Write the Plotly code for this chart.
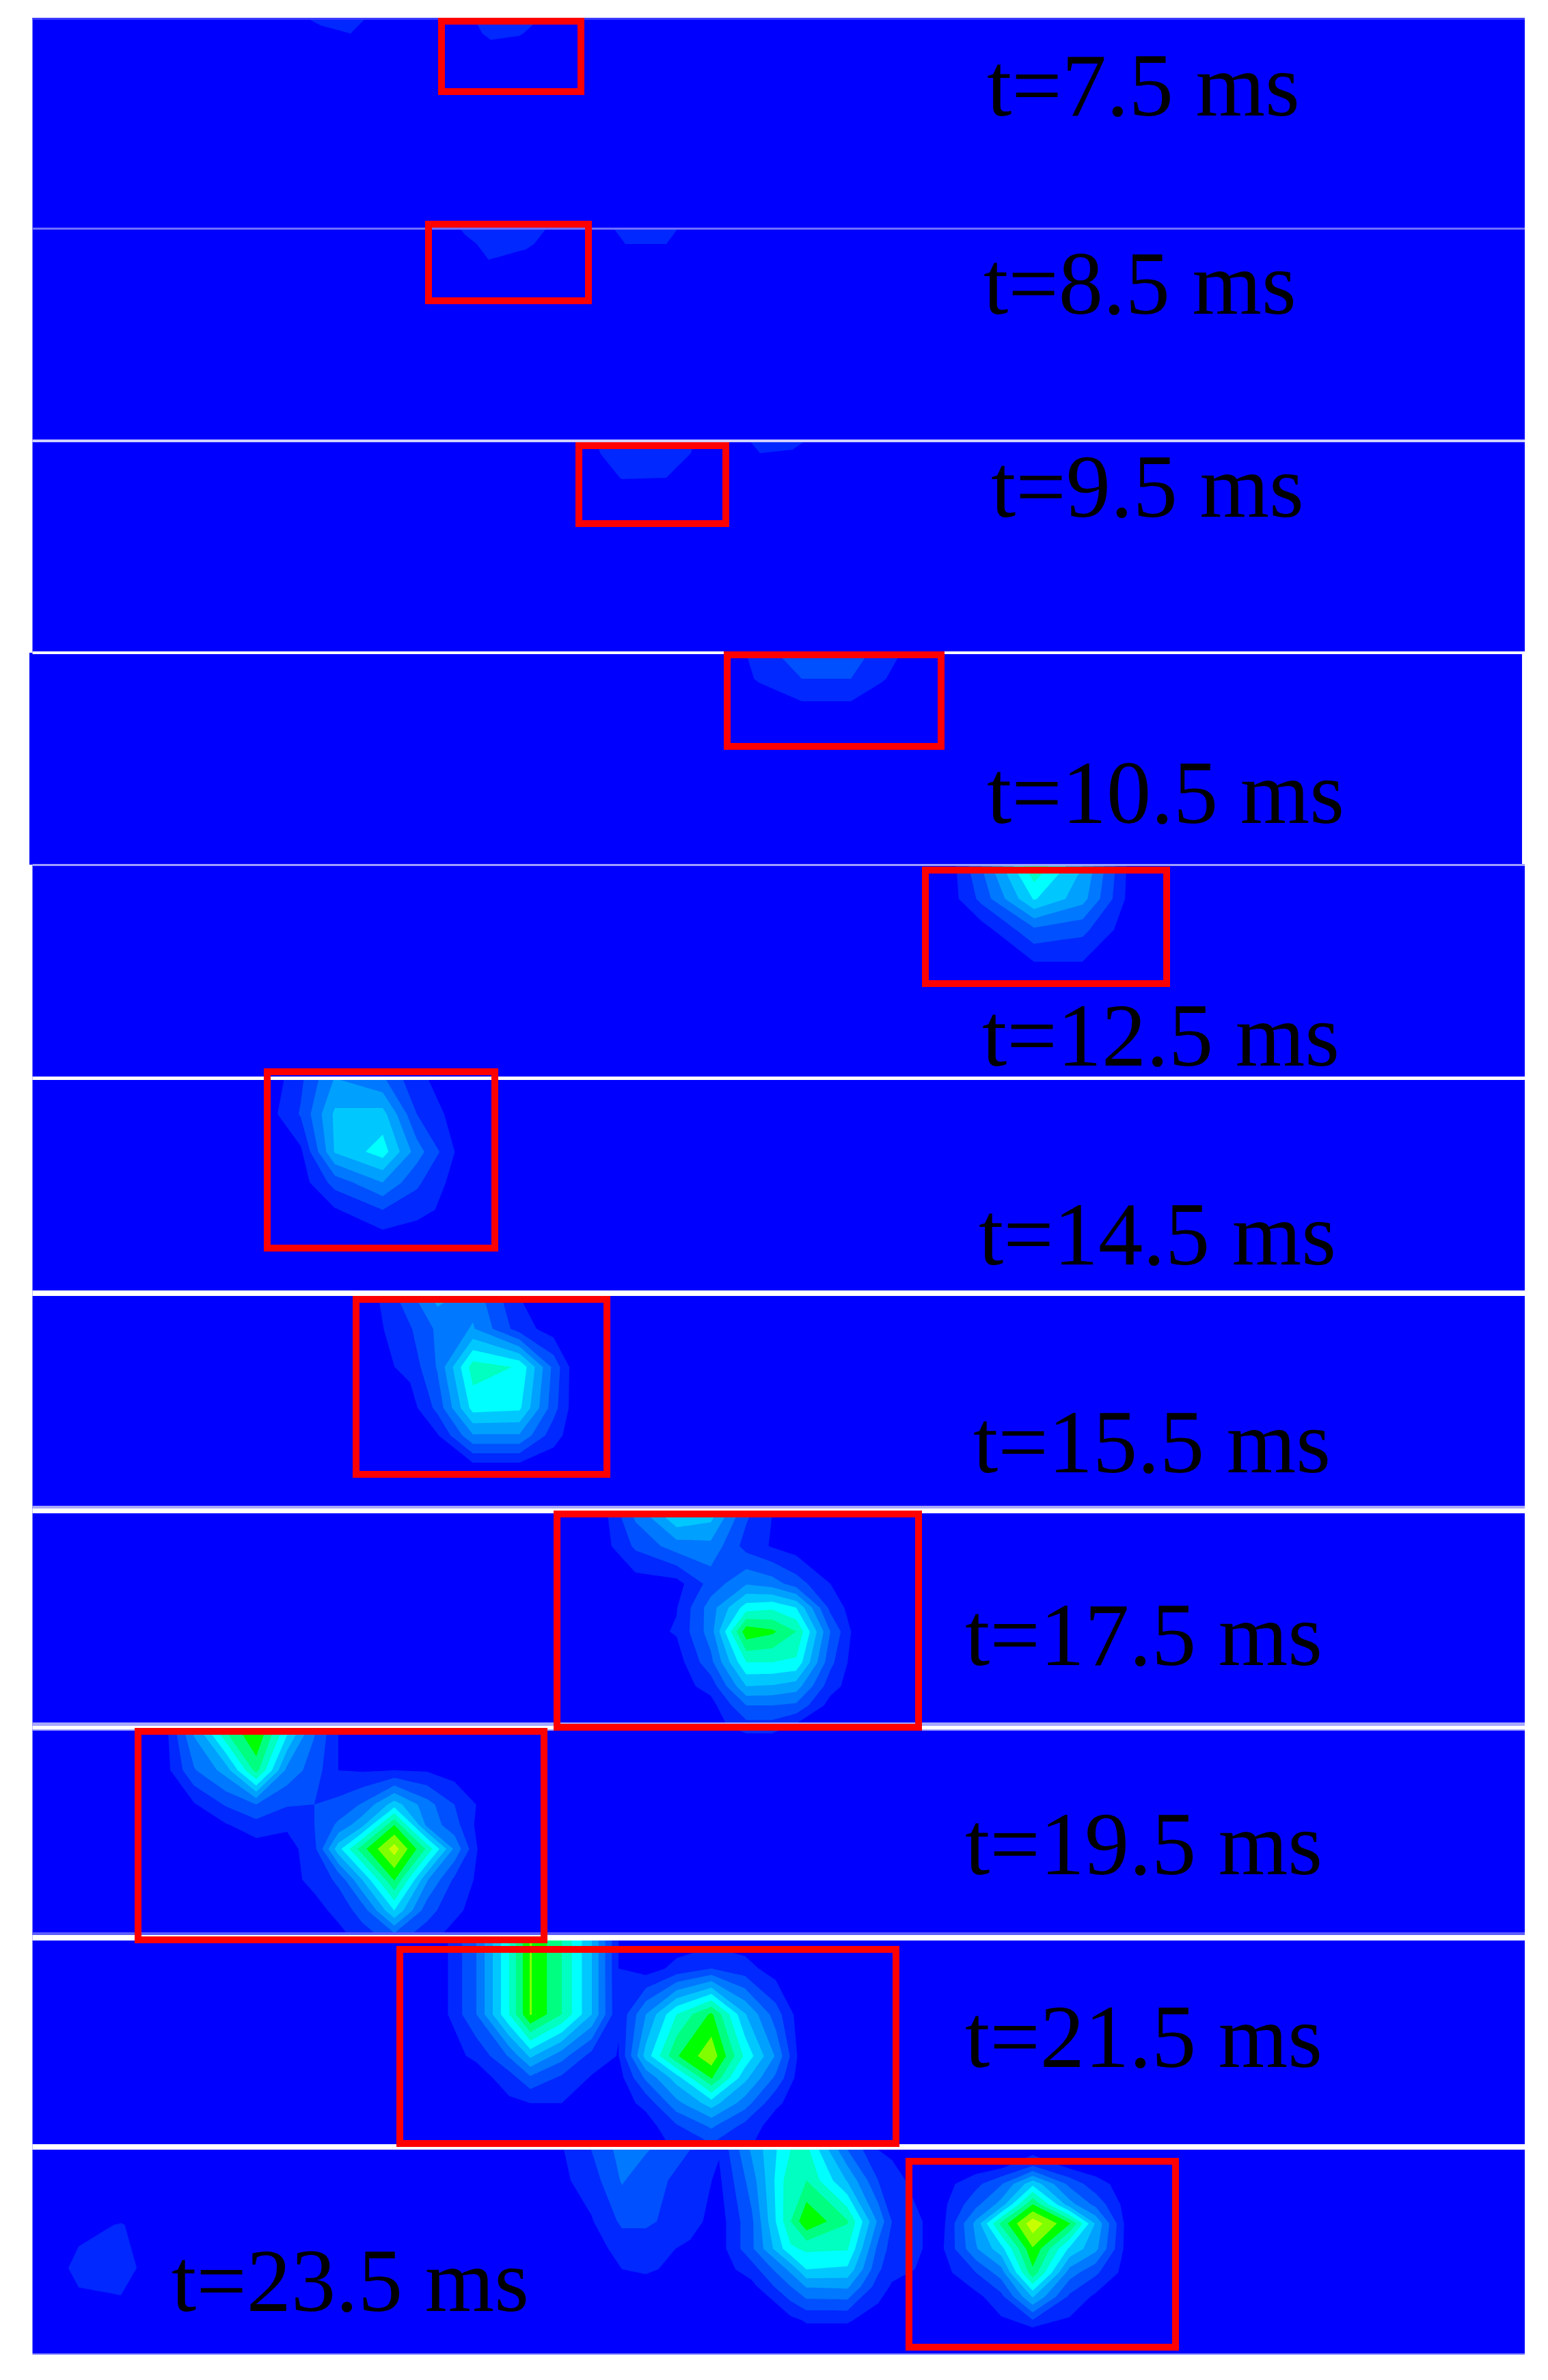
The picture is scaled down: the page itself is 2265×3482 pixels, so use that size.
import plotly.graph_objects as go

W, H = 2265, 3482

labels = ["t=7.5 ms", "t=8.5 ms", "t=9.5 ms", "t=10.5 ms", "t=12.5 ms", "t=14.5 ms",
          "t=15.5 ms", "t=17.5 ms", "t=19.5 ms", "t=21.5 ms", "t=23.5 ms"]
label_left = [1442, 1437, 1448, 1442, 1435, 1430, 1422, 1410, 1410, 1410, 249]
label_base = [169, 459, 756, 1204, 1559, 1850, 2154, 2436, 2742, 3024, 3381]

panel_left = [47.5, 47.5, 47.5, 43, 47.5, 47.5, 47.5, 47.5, 47.5, 47.5, 47.5]
panel_right = [2231, 2231, 2231, 2227, 2231, 2231, 2231, 2231, 2231, 2231, 2231]
panel_top = [26, 334, 645, 955, 1265, 1578, 1892, 2207, 2527, 2829, 3141]
panel_bottom = [334, 645, 955, 1265, 1578, 1892, 2207, 2527, 2829, 3141, 3443]

band_colors = ["#0000ff", "#0028ff", "#0050ff", "#0078ff", "#00a0ff", "#00c8ff",
               "#00ffff", "#00ffc0", "#00ff80", "#00ff00", "#80ff00", "#c8ff00"]

# Field samples, one block per frame
p1_x = [420, 470, 513, 550, 690, 718, 760, 795]
p1_y = [26, 49, 70]
p1_z = [[0, .9, 1.3, 0, .4, 1.2, 1.2, .4],
        [0, .1, .5, .1, 0, .9, .6, 0],
        [0, 0, 0, 0, 0, 0, 0, 0]]

p2_x = [660, 680, 715, 770, 810, 890, 915, 975, 1000]
p2_y = [336, 357, 380, 400]
p2_z = [[0, .7, 1.2, 1.2, .2, .2, 1, 1, .2],
        [0, .1, .9, .7, 0, 0, .5, .5, 0],
        [0, 0, .5, .1, 0, 0, 0, 0, 0],
        [0, 0, 0, 0, 0, 0, 0, 0, 0]]

p3_x = [865, 878, 910, 975, 1011, 1025, 1085, 1112, 1160, 1195]
p3_y = [647, 663, 699, 720]
p3_z = [[0, .7, 1.2, 1.2, .7, 0, .1, .9, .9, 0],
        [0, .5, 1, 1, .5, 0, 0, .5, .3, 0],
        [0, 0, .55, .5, 0, 0, 0, 0, 0, 0],
        [0, 0, 0, 0, 0, 0, 0, 0, 0, 0]]

p4_x = [1070, 1110, 1173, 1245, 1290, 1330, 1350]
p4_y = [957, 993, 1026, 1060]
p4_z = [[0, .9, 2.2, 2.2, .9, .3, 0],
        [0, .6, 1.5, 1.5, .6, 0, 0],
        [0, 0, .5, .5, 0, 0, 0],
        [0, 0, 0, 0, 0, 0, 0]]

p5_x = [1390, 1436, 1513, 1584, 1648, 1690]
p5_y = [1267, 1315, 1360, 1407, 1440]
p5_z = [[0, 2.5, 7.4, 4.5, .5, 0],
        [0, 1.8, 5.6, 3.9, .4, 0],
        [0, 0, 2.3, 1.8, 0, 0],
        [0, 0, .5, .5, 0, 0],
        [0, 0, 0, 0, 0, 0]]

p6_x = [400, 440, 490, 560, 610, 670]
p6_y = [1580, 1630, 1685, 1730, 1770, 1805, 1830]
p6_z = [[0, 1.3, 3.6, 2.7, .7, 0],
        [.3, 1.6, 4.7, 4.9, 1.5, 0],
        [0, .3, 4.6, 6.0, 3, .3],
        [0, 0, 1.9, 3.5, 1.7, 0],
        [0, 0, .4, 1.5, .9, 0],
        [0, 0, 0, .3, 0, 0],
        [0, 0, 0, 0, 0, 0]]

p7_x = [540, 600, 640, 692, 760, 810, 840]
p7_y = [1896, 1944, 2000, 2060, 2100, 2140, 2170]
p7_z = [[0, 2.2, 3.9, 3.1, .5, 0, 0],
        [0, 1.4, 2.7, 3.6, 1.0, 0, 0],
        [0, .8, 2.6, 7.0, 6.4, 2.2, 0],
        [0, 0, 1.8, 5.9, 5.7, 1.9, 0],
        [0, 0, .4, 3.4, 3.4, .9, 0],
        [0, 0, 0, .5, .5, 0, 0],
        [0, 0, 0, 0, 0, 0, 0]]

p8_x = [880, 930, 990, 1040, 1092, 1130, 1165, 1215, 1250]
p8_y = [2214, 2262, 2317, 2352, 2387, 2432, 2467, 2495, 2525, 2545]
p8_z = [[0, 2.8, 5.6, 5.0, 1.7, .5, 0, 0, 0],
        [0, 1.7, 3.0, 3.2, 1.1, .4, 0, 0, 0],
        [0, 0, .1, 1.9, 3.4, 3.0, 2.0, .5, 0],
        [0, 0, .45, 3.0, 6.0, 6.3, 5.5, 1.2, 0],
        [0, 0, .6, 3.0, 9.2, 8.7, 7.5, 2.5, .2],
        [0, 0, 0, 2.2, 6.5, 6.5, 6.3, 1.8, 0],
        [0, 0, 0, .9, 4.5, 4.4, 4.0, .9, 0],
        [0, 0, 0, .1, 2.5, 2.5, 2.3, .1, 0],
        [0, 0, 0, 0, 1.1, 1.1, .3, 0, 0],
        [0, 0, 0, 0, 0, 0, 0, 0, 0]]

p9_x = [240, 284, 330, 375, 420, 460, 495, 530, 577, 625, 665, 700, 730]
p9_y = [2532, 2590, 2640, 2670, 2705, 2750, 2795, 2835]
p9_z = [[0, 3.7, 7.5, 9.6, 5.8, 2.6, .5, 0, 0, 0, 0, 0, 0],
        [0, 2.4, 3.9, 7.9, 3.2, 2.0, .5, .4, .5, .4, 0, 0, 0],
        [0, .4, 1.6, 2.5, 1.6, 1.5, 1.8, 2.6, 5.0, 2.9, 1.5, .4, 0],
        [0, 0, .4, 1.1, .7, 1.5, 2.7, 4.2, 8.5, 3.2, 1.9, .2, 0],
        [0, 0, 0, 0, 0, 1.2, 5.1, 8.1, 11.0, 7.3, 3.3, .4, 0],
        [0, 0, 0, 0, 0, .9, 1.7, 4.5, 8.6, 3.6, 1.3, .3, 0],
        [0, 0, 0, 0, 0, 0, .9, 1.9, 5.5, 1.9, .8, 0, 0],
        [0, 0, 0, 0, 0, 0, 0, 1.0, 1.9, .9, 0, 0, 0]]

p10_x = [645, 697, 745, 776, 822, 866, 905, 945, 990, 1041, 1090, 1135, 1170, 1200]
p10_y = [2839, 2880, 2947, 3008, 3040, 3077, 3110, 3145]
p10_z = [[0, 2.5, 6.5, 9.6, 7.5, 4.5, .5, 0, 0, .2, 0, 0, 0, 0],
         [0, 2.5, 6.5, 9.6, 7.5, 4.5, .5, 0, .8, 1.5, .9, 0, 0, 0],
         [0, 2.5, 6.5, 9.6, 7.5, 4.5, .6, 3.5, 6.5, 8.7, 4.6, 2.0, 0, 0],
         [0, .7, 2.6, 4.7, 2.9, 1.1, .45, 4.9, 8.4, 10.2, 6.3, 3.4, .2, 0],
         [0, 0, 1.0, 2.3, 1.3, .4, 0, 2.7, 5.0, 8.6, 4.8, 2.3, 0, 0],
         [0, 0, .3, .5, .5, 0, 0, .8, 3.2, 5.0, 3.0, .7, 0, 0],
         [0, 0, 0, 0, 0, 0, 0, 0, 1.4, 2.7, 1.2, 0, 0, 0],
         [0, 0, 0, 0, 0, 0, 0, 0, .6, 1.1, .6, 0, 0, 0]]

p11a_x = [805, 865, 910, 945, 1010, 1052, 1100, 1157, 1180, 1240, 1285, 1305, 1350, 1375]
p11a_y = [3145, 3190, 3250, 3290, 3320, 3345, 3395, 3420]
p11a_z = [[0, 1.5, 2.9, 2.6, 1.5, .6, 3.7, 6.5, 6.8, 2.5, .5, .3, 0, 0],
          [0, 1.0, 2.6, 1.9, 1.1, .3, 3.0, 7.3, 7.5, 4.4, 1.5, .9, 0, 0],
          [0, .4, 1.7, 1.7, .9, 0, 2.3, 7.5, 9.4, 7.6, 3.3, 1.5, .5, 0],
          [0, 0, .9, .9, .3, 0, 2.3, 6.3, 6.7, 6.6, 2.2, 1.1, .5, 0],
          [0, 0, .5, .7, 0, 0, 1.0, 3.8, 5.5, 5.3, 1.7, .8, .4, 0],
          [0, 0, 0, 0, 0, 0, .2, 2.5, 3.6, 3.7, 1.0, .4, 0, 0],
          [0, 0, 0, 0, 0, 0, 0, .2, .6, .6, 0, 0, 0, 0],
          [0, 0, 0, 0, 0, 0, 0, 0, 0, 0, 0, 0, 0, 0]]

p11b_x = [1376, 1428, 1465, 1511, 1565, 1603, 1650]
p11b_y = [3145, 3170, 3195, 3225, 3253, 3290, 3325, 3360, 3405, 3440]
p11b_z = [[0, 0, 0, 0, 0, 0, 0],
          [0, 0, .3, 1.6, .3, 0, 0],
          [0, 1.2, 2.4, 5.2, 2.2, .9, 0],
          [.1, 2.2, 3.9, 8.5, 3.9, 2.2, 0],
          [0, 3.8, 7.8, 11.2, 8.6, 4.4, 0],
          [.2, 3.4, 5.1, 9.4, 5.3, 3.8, 0],
          [0, 1.5, 3.0, 8.2, 3.0, 1.7, 0],
          [0, .2, 1.2, 4.6, 1.3, .3, 0],
          [0, 0, .1, .5, .1, 0, 0],
          [0, 0, 0, 0, 0, 0, 0]]

p11c_x = [85, 115, 177, 210]
p11c_y = [3240, 3255, 3318, 3358, 3375]
p11c_z = [[0, 0, 0, 0],
          [0, 0, .6, 0],
          [0, 1, 1.2, .2],
          [0, .3, .5, 0],
          [0, 0, 0, 0]]

patches = [(p1_x, p1_y, p1_z), (p2_x, p2_y, p2_z), (p3_x, p3_y, p3_z), (p4_x, p4_y, p4_z),
           (p5_x, p5_y, p5_z), (p6_x, p6_y, p6_z), (p7_x, p7_y, p7_z), (p8_x, p8_y, p8_z),
           (p9_x, p9_y, p9_z), (p10_x, p10_y, p10_z), (p11a_x, p11a_y, p11a_z),
           (p11b_x, p11b_y, p11b_z), (p11c_x, p11c_y, p11c_z)]

# Red frames: outer left, right, top, bottom
box_left = [641, 622, 842, 1059, 1349, 386, 516, 810, 197, 580, 1325]
box_right = [855, 866, 1067, 1382, 1712, 729, 893, 1349, 801, 1316, 1725]
box_top = [26, 323, 647, 953, 1268, 1563, 1896, 2210, 2528, 2847, 3157]
box_bottom = [139, 445, 771, 1097, 1444, 1831, 2162, 2532, 2843, 3141, 3439]
box_line = 10

# Separators between the frames: top, bottom, colour
sep_top = [26, 333, 643, 953, 1264, 1575, 1888, 2203, 2207, 2520, 2525, 2530, 2827, 2831, 3137, 3443]
sep_bottom = [29, 336, 647, 957, 1267, 1580, 1896, 2207, 2214, 2525, 2530, 2532, 2831, 2839, 3145, 3445]
sep_color = ["#3c3cff", "#7070ff", "#d0d0ff", "#ffffff", "#a0a0ff", "#ffffff", "#ffffff", "#a8a8f8",
             "#ffffff", "#a8a8ff", "#ffffff", "#a8a8ff", "#5c5cff", "#ffffff", "#ffffff", "#8080ff"]

n = len(band_colors) - 1
colorscale = [[i / n, c] for i, c in enumerate(band_colors)]

fig = go.Figure()
for px, py, pz in patches:
    fig.add_trace(go.Contour(
        x=px, y=py, z=pz, autocontour=False,
        contours=dict(start=.5, end=10.5, size=1, coloring="fill", showlines=False),
        line=dict(width=0, smoothing=0), colorscale=colorscale, showscale=False, hoverinfo="skip",
    ))

shapes = []
for l, r, t, b in zip(panel_left, panel_right, panel_top, panel_bottom):
    shapes.append(dict(type="rect", xref="x", yref="y", x0=l, x1=r, y0=t, y1=b,
                       fillcolor="#0000ff", line_width=0, layer="below"))
for t, b, c in zip(sep_top, sep_bottom, sep_color):
    shapes.append(dict(type="rect", xref="x", yref="y", x0=47.5, x1=2231, y0=t, y1=b,
                       fillcolor=c, line_width=0, layer="above"))
for l, r, t, b in zip(box_left, box_right, box_top, box_bottom):
    hw = box_line / 2
    shapes.append(dict(type="rect", xref="x", yref="y", x0=l + hw, x1=r - hw, y0=t + hw, y1=b - hw,
                       fillcolor="rgba(0,0,0,0)", line=dict(color="#ff0000", width=box_line), layer="above"))

annotations = [dict(x=x, y=y - 44, xref="x", yref="y", text=t, showarrow=False,
                    xanchor="left", yanchor="middle",
                    font=dict(family="Liberation Serif", size=130.5, color="#000000"))
               for t, x, y in zip(labels, label_left, label_base)]

fig.update_layout(
    width=W, height=H, margin=dict(l=0, r=0, t=0, b=0),
    paper_bgcolor="#ffffff", plot_bgcolor="#ffffff",
    xaxis=dict(range=[0, W], visible=False, fixedrange=True),
    yaxis=dict(range=[H, 0], visible=False, fixedrange=True),
    shapes=shapes, annotations=annotations, showlegend=False,
)

fig.write_html("out.html", config={"displayModeBar": False},
               post_script="document.body.style.margin='0';document.documentElement.style.overflow='hidden';")
